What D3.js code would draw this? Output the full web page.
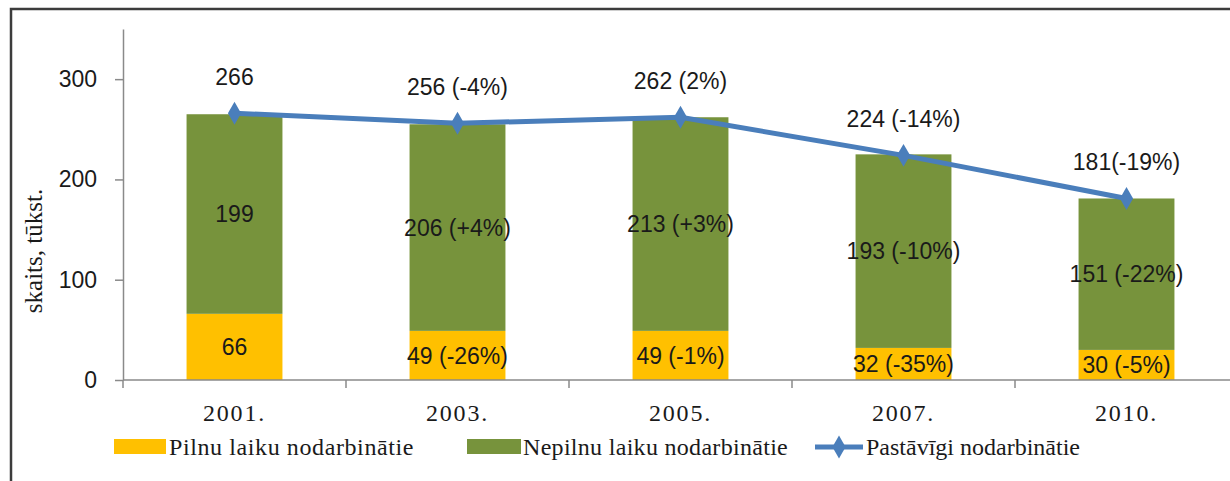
<!DOCTYPE html>
<html>
<head>
<meta charset="utf-8">
<script src="https://cdn.jsdelivr.net/npm/d3@7"></script>
<style>
  html, body { margin: 0; padding: 0; background: #fff; }
  svg { display: block; }
</style>
</head>
<body>
<svg id="chart" width="1230" height="481"></svg>
<script>
// Employment by working time, thousands
const years = ["2001.", "2003.", "2005.", "2007.", "2010."];
const fullTime = [66, 49, 49, 32, 30];
const partTime = [199, 206, 213, 193, 151];
const permanent = [266, 256, 262, 224, 181];

const fullLabels = ["66", "49 (-26%)", "49 (-1%)", "32 (-35%)", "30 (-5%)"];
const partLabels = ["199", "206 (+4%)", "213 (+3%)", "193 (-10%)", "151 (-22%)"];
const permLabels = ["266", "256 (-4%)", "262 (2%)", "224 (-14%)", "181(-19%)"];

const yTicks = [0, 100, 200, 300];
const seriesNames = ["Pilnu laiku nodarbinātie", "Nepilnu laiku nodarbinātie", "Pastāvīgi nodarbinātie"];
const yTitle = "skaits, tūkst.";

const colFull = "#FFC000";
const colPart = "#77933C";
const colLine = "#4A7EBB";
const axisCol = "#8a8a8a";
const sansFont = "'Liberation Sans', Arial, sans-serif";
const serifFont = "'Liberation Serif', 'Times New Roman', serif";

const svg = d3.select("#chart");

// outer frame (runs off the right and bottom edges)
svg.append("rect")
  .attr("x", 11).attr("y", 9)
  .attr("width", 1260).attr("height", 500)
  .attr("fill", "#fff").attr("stroke", "#3c3c3c").attr("stroke-width", 2.5);

const left = 123, step = 223;
const x = d3.scaleBand().domain(years).range([left, left + step * years.length]).padding(0);
const y = d3.scaleLinear().domain([0, 350]).range([380, 29]);
const barW = x.bandwidth() * 0.43;
const cx = d => x(d) + x.bandwidth() / 2;

// bars
const g = svg.append("g");
years.forEach((yr, i) => {
  g.append("rect")
    .attr("x", cx(yr) - barW / 2).attr("width", barW)
    .attr("y", y(fullTime[i])).attr("height", y(0) - y(fullTime[i]))
    .attr("fill", colFull);
  g.append("rect")
    .attr("x", cx(yr) - barW / 2).attr("width", barW)
    .attr("y", y(fullTime[i] + partTime[i])).attr("height", y(fullTime[i]) - y(fullTime[i] + partTime[i]))
    .attr("fill", colPart);
});

// y axis
const yAxis = svg.append("g")
  .attr("transform", `translate(${left},0)`)
  .call(d3.axisLeft(y).tickValues(yTicks).tickSize(8).tickSizeOuter(0).tickPadding(18));
yAxis.select(".domain").attr("stroke", axisCol).attr("stroke-width", 1.5);
yAxis.selectAll(".tick line").attr("stroke", axisCol).attr("stroke-width", 1.5);
yAxis.selectAll(".tick text")
  .attr("font-family", sansFont).attr("font-size", 23).attr("fill", "#1a1a1a");

// x axis line with boundary ticks
const xg = svg.append("g");
xg.append("line")
  .attr("x1", left).attr("x2", left + step * years.length)
  .attr("y1", y(0)).attr("y2", y(0))
  .attr("stroke", axisCol).attr("stroke-width", 1.5);
d3.range(years.length + 1).forEach(k => {
  const xx = left + step * k;
  xg.append("line")
    .attr("x1", xx).attr("x2", xx).attr("y1", y(0)).attr("y2", y(0) + 8)
    .attr("stroke", axisCol).attr("stroke-width", 1.5);
});
xg.selectAll("text.cat").data(years).join("text")
  .attr("class", "cat")
  .attr("x", d => cx(d)).attr("y", 421)
  .attr("text-anchor", "middle")
  .attr("font-family", serifFont).attr("font-size", 24)
  .attr("letter-spacing", 1.8)
  .attr("fill", "#1a1a1a")
  .text(d => d);

// y title
svg.append("text")
  .attr("transform", "translate(42,251) rotate(-90)")
  .attr("text-anchor", "middle")
  .attr("font-family", serifFont).attr("font-size", 25)
  .attr("fill", "#1a1a1a")
  .text(yTitle);

// line of permanent employees
const line = d3.line().x((d, i) => cx(years[i])).y(d => y(d));
svg.append("path")
  .datum(permanent)
  .attr("d", line)
  .attr("fill", "none").attr("stroke", colLine).attr("stroke-width", 5)
  .attr("stroke-linejoin", "round");
const diamond = d3.symbol().type(d3.symbolDiamond).size(150);
svg.selectAll("path.mk").data(permanent).join("path")
  .attr("class", "mk")
  .attr("d", diamond)
  .attr("transform", (d, i) => `translate(${cx(years[i])},${y(d)})`)
  .attr("fill", colLine);

// data labels
const lbl = svg.append("g")
  .attr("font-family", sansFont).attr("font-size", 23).attr("fill", "#1a1a1a")
  .attr("text-anchor", "middle");
years.forEach((yr, i) => {
  lbl.append("text")
    .attr("x", cx(yr)).attr("y", (y(0) + y(fullTime[i])) / 2)
    .attr("dy", "0.36em").text(fullLabels[i]);
  lbl.append("text")
    .attr("x", cx(yr)).attr("y", (y(fullTime[i]) + y(fullTime[i] + partTime[i])) / 2)
    .attr("dy", "0.36em").text(partLabels[i]);
  lbl.append("text")
    .attr("x", cx(yr)).attr("y", y(permanent[i]) - 28)
    .text(permLabels[i]);
});

// legend
const leg = svg.append("g");
const legY = 447;
leg.append("rect").attr("x", 114).attr("y", legY - 8).attr("width", 52).attr("height", 15).attr("fill", colFull);
leg.append("text").attr("x", 169).attr("y", legY).attr("dy", "0.35em")
  .attr("font-family", serifFont).attr("font-size", 24).attr("letter-spacing", 0.6).attr("fill", "#1a1a1a")
  .text(seriesNames[0]);
leg.append("rect").attr("x", 467).attr("y", legY - 8).attr("width", 54).attr("height", 15).attr("fill", colPart);
leg.append("text").attr("x", 523).attr("y", legY).attr("dy", "0.35em")
  .attr("font-family", serifFont).attr("font-size", 24).attr("letter-spacing", 0.3).attr("fill", "#1a1a1a")
  .text(seriesNames[1]);
leg.append("line").attr("x1", 815).attr("x2", 863).attr("y1", legY).attr("y2", legY)
  .attr("stroke", colLine).attr("stroke-width", 5);
leg.append("path").attr("d", diamond).attr("transform", `translate(839,${legY})`).attr("fill", colLine);
leg.append("text").attr("x", 866).attr("y", legY).attr("dy", "0.35em")
  .attr("font-family", serifFont).attr("font-size", 24).attr("letter-spacing", 0).attr("fill", "#1a1a1a")
  .text(seriesNames[2]);
</script>
</body>
</html>
